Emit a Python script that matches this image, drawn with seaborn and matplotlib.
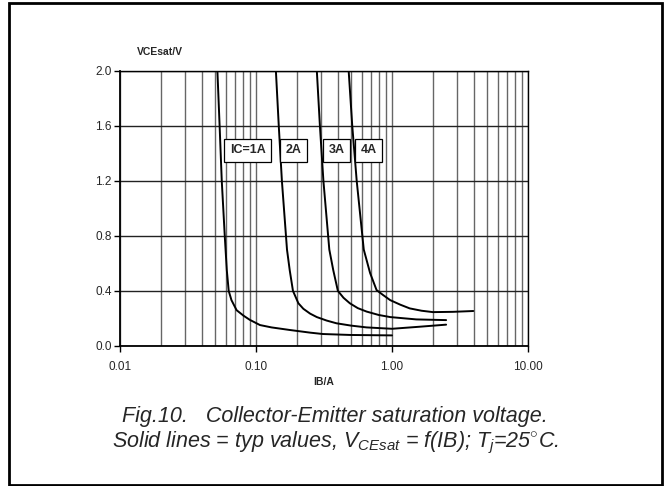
import numpy as np
import pandas as pd
import matplotlib.pyplot as plt
import seaborn as sns
from matplotlib.patches import Rectangle
from matplotlib.ticker import LogLocator, FixedLocator, NullFormatter

# values (IB in A, VCEsat in V)
ib_1a = [0.052, 0.054, 0.056, 0.059, 0.061, 0.063, 0.066, 0.072, 0.081, 0.09,
         0.107, 0.13, 0.178, 0.25, 0.31, 0.5, 1.0]
vce_1a = [2.0, 1.6, 1.2, 0.79, 0.55, 0.40, 0.333, 0.26, 0.22, 0.19,
          0.152, 0.135, 0.116, 0.097, 0.087, 0.080, 0.077]
ib_2a = [0.14, 0.147, 0.155, 0.169, 0.177, 0.187, 0.205, 0.223, 0.25, 0.28,
         0.33, 0.39, 0.5, 0.65, 1.0, 1.6, 2.5]
vce_2a = [2.0, 1.6, 1.2, 0.70, 0.55, 0.40, 0.31, 0.27, 0.235, 0.21,
          0.185, 0.165, 0.148, 0.135, 0.125, 0.14, 0.155]
ib_3a = [0.28, 0.295, 0.313, 0.346, 0.37, 0.40, 0.44, 0.49, 0.56, 0.65, 0.8,
         0.97, 1.51, 2.5]
vce_3a = [2.0, 1.6, 1.2, 0.70, 0.55, 0.40, 0.35, 0.31, 0.275, 0.25, 0.225,
          0.21, 0.193, 0.188]
ib_4a = [0.48, 0.51, 0.55, 0.62, 0.69, 0.77, 0.86, 0.97, 1.15, 1.35, 1.65,
         2.0, 2.8, 3.96]
vce_4a = [2.0, 1.6, 1.2, 0.70, 0.53, 0.406, 0.37, 0.333, 0.30, 0.273, 0.256,
          0.246, 0.248, 0.254]

curve_labels = ["IC=1A", "2A", "3A", "4A"]
label_x = [0.064, 0.166, 0.34, 0.585]
label_y = [1.42, 1.42, 1.42, 1.42]
x_ticks = [0.01, 0.1, 1, 10]
x_ticklabels = ["0.01", "0.10", "1.00", "10.00"]
y_ticks = [0.0, 0.4, 0.8, 1.2, 1.6, 2.0]

frames = []
for name, xs, ys in zip(curve_labels, [ib_1a, ib_2a, ib_3a, ib_4a],
                        [vce_1a, vce_2a, vce_3a, vce_4a]):
    frames.append(pd.DataFrame({"IB": xs, "VCE": ys, "curve": name}))
df = pd.concat(frames, ignore_index=True)

sns.set_style("white")
plt.rcParams["font.family"] = ["Liberation Sans", "DejaVu Sans"]
plt.rcParams["mathtext.fontset"] = "custom"
plt.rcParams["mathtext.it"] = "Liberation Sans:italic"
plt.rcParams["mathtext.rm"] = "Liberation Sans:italic"

fig = plt.figure(figsize=(6.69, 4.86), dpi=100)
ax = fig.add_axes([120 / 669, 1 - 346 / 486, 408 / 669, 275.5 / 486])

for name in curve_labels:
    sub = df[df["curve"] == name]
    sns.lineplot(data=sub, x="IB", y="VCE", ax=ax, color="black", lw=1.4,
                 sort=False, estimator=None, legend=False)

ax.set_xscale("log")
ax.set_xlim(0.01, 10)
ax.set_ylim(0, 2.0)
ax.xaxis.set_major_locator(FixedLocator(x_ticks))
ax.set_xticklabels(x_ticklabels)
ax.xaxis.set_minor_locator(LogLocator(base=10, subs=np.arange(2, 10)))
ax.xaxis.set_minor_formatter(NullFormatter())
ax.set_yticks(y_ticks)
ax.set_yticklabels([f"{v:.1f}" for v in y_ticks])
ax.grid(True, which="both", axis="x", color="#666666", lw=1.0)
ax.grid(True, which="major", axis="y", color="#222222", lw=1.0)
ax.set_axisbelow(True)
for s in ["left", "bottom"]:
    ax.spines[s].set_color("black")
    ax.spines[s].set_linewidth(1.3)
for s in ["top", "right"]:
    ax.spines[s].set_color("black")
    ax.spines[s].set_linewidth(1.0)
ax.tick_params(axis="both", which="major", labelsize=8.5, length=4, width=1,
               color="black", direction="out", bottom=True, left=True, pad=7)
ax.tick_params(axis="y", pad=2)
ax.set_xlabel("")
ax.set_ylabel("")

for txt, xv, yv in zip(curve_labels, label_x, label_y):
    ax.text(xv, yv, txt, fontsize=9, fontweight="bold", ha="left", va="center",
            bbox=dict(boxstyle="square,pad=0.45", fc="white", ec="black", lw=0.9))

fig.text(137 / 669, 1 - 52 / 486, "VCEsat/V", fontsize=7.5, fontweight="bold",
         ha="left", va="center")
fig.text(324 / 669, 1 - 382 / 486, "IB/A", fontsize=7.5, fontweight="bold",
         ha="center", va="center")
fig.text(335 / 669, 1 - 416 / 486,
         "Fig.10.   Collector-Emitter saturation voltage.",
         fontsize=15.5, style="italic", ha="center", va="center")
fig.text(335 / 669, 1 - 443 / 486,
         r"Solid lines = typ values, $V_{CEsat}$ = f(IB); $T_j$=25$^{\circ}$C.",
         fontsize=15.5, style="italic", ha="center", va="center")

fig.patches.append(Rectangle((9 / 669, 1 - 485 / 486), 653 / 669, 482 / 486,
                             transform=fig.transFigure, fill=False,
                             ec="black", lw=2))

fig.savefig("out.png", dpi=100)
plt.close(fig)
